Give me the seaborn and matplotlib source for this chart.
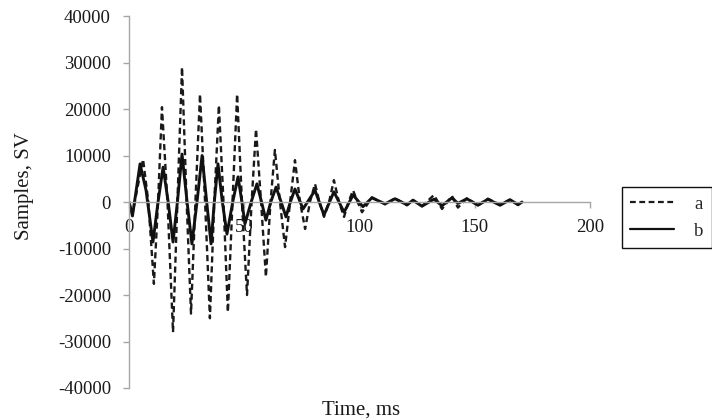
import pandas as pd
import seaborn as sns
import matplotlib.pyplot as plt
from matplotlib.ticker import MultipleLocator

# series a (dashed): time in ms, samples in SV
a_time = [0, 1.5, 6.1, 8.4, 10.8, 12.6, 14.3, 16.7, 19.1, 21.0,
          23.0, 25.0, 26.9, 28.8, 30.8, 33.0, 35.1, 37.0, 39.0, 41.0,
          42.9, 44.9, 46.9, 49.0, 51.2, 53.2, 55.1, 57.3, 59.4, 61.4,
          63.3, 65.5, 67.7, 69.9, 72.0, 74.2, 76.4, 78.5, 80.7, 82.6,
          84.6, 86.8, 88.9, 91.1, 93.3, 95.2, 97.2, 99.2, 101.1, 105.4,
          111.1, 115.4, 120.6, 123.2, 127.1, 132.3, 135.8, 140.1, 142.7, 146.6,
          151.4, 155.7, 161.0, 165.3, 168.8, 170.5]
a_value = [0, -2500, 9200, 0, -17600, 0, 20400, 0, -28000, 0,
           29000, 0, -24000, 0, 23200, 0, -25000, 0, 20800, 0,
           -23700, 0, 23200, 0, -20000, 0, 15700, 0, -16100, 0,
           11200, 0, -9700, 0, 9000, 0, -5800, 0, 3900, 0,
           -3200, 0, 4700, 0, -3200, 0, 2500, 0, -2200, 1000,
           -500, 800, -700, 400, -900, 1500, -1500, 1300, -1200, 800,
           -700, 700, -600, 500, -600, 0]

# series b (solid)
b_time = [0, 1.5, 4.8, 7.4, 10.4, 12.6, 14.8, 17.0, 19.1, 21.0,
          23.0, 25.2, 27.3, 29.5, 31.7, 33.7, 35.6, 37.0, 38.6, 40.5,
          42.5, 45.0, 47.3, 49.0, 50.3, 53.0, 55.5, 57.5, 59.4, 61.5,
          63.8, 66.0, 68.1, 70.0, 72.0, 75.5, 80.7, 84.6, 88.9, 93.3,
          97.2, 101.5, 105.4, 111.1, 115.4, 120.6, 123.2, 127.1, 132.3, 135.8,
          140.1, 142.7, 146.6, 151.4, 155.7, 161.0, 165.3, 168.8, 170.5]
b_value = [0, -3000, 8200, 2500, -8600, 0, 7500, 0, -8600, 0,
           10300, 0, -9000, 0, 10000, 0, -9000, 0, 8200, 0,
           -6900, 0, 5400, 0, -4700, 0, 3900, 0, -3900, 0,
           3200, 0, -3200, 0, 2800, -1500, 2500, -2800, 2200, -2200,
           1500, -1000, 900, -400, 700, -600, 400, -900, 600, -800,
           900, -300, 700, -700, 600, -700, 500, -600, 0]

series = ['a', 'b']
y_ticks = list(range(-40000, 40001, 10000))

df = pd.concat([
    pd.DataFrame({'time': a_time, 'value': a_value, 'series': 'a'}),
    pd.DataFrame({'time': b_time, 'value': b_value, 'series': 'b'}),
])

sns.set_style('white')
plt.rcParams['font.family'] = ['Liberation Serif', 'DejaVu Serif']
plt.rcParams['axes.unicode_minus'] = False

fig = plt.figure(figsize=(7.12, 4.2), dpi=100)
ax = fig.add_axes([129 / 712, 32 / 420, 461 / 712, 372 / 420])

sns.lineplot(
    data=df, x='time', y='value', hue='series', style='series',
    hue_order=series, style_order=series,
    palette={'a': '#1a1a1a', 'b': '#111111'},
    dashes={'a': (2.6, 1.6), 'b': ''},
    estimator=None, sort=False, ax=ax,
)
for line, lw in zip(ax.lines, (1.7, 2.1)):
    line.set_linewidth(lw)
    line.set_solid_joinstyle('round')
    line.set_dash_joinstyle('round')

ax.set_xlim(0, 200)
ax.set_ylim(-40000, 40000)
ax.set_yticks(y_ticks)
ax.xaxis.set_major_locator(MultipleLocator(50))

grey = '#a6a6a6'
for side in ('top', 'right'):
    ax.spines[side].set_visible(False)
ax.spines['bottom'].set_position(('data', 0))
for side in ('left', 'bottom'):
    ax.spines[side].set_color(grey)
    ax.spines[side].set_linewidth(1.0)

ax.tick_params(axis='both', direction='out', length=4, width=1.0,
               color=grey, labelcolor='#1a1a1a', labelsize=13.5)
ax.tick_params(axis='y', pad=9, left=True)
ax.tick_params(axis='x', pad=8, bottom=True)

ax.set_xlabel('Time, ms', fontsize=15, color='#1a1a1a')
ax.set_ylabel('Samples, SV', fontsize=15, color='#1a1a1a')
ax.xaxis.set_label_coords(0.503, -0.035)
ax.yaxis.set_label_coords(-0.206, 0.543)

handles, labels = ax.get_legend_handles_labels()
for h in handles:
    h.set_linewidth(1.6)
leg = ax.legend(
    handles, labels,
    loc='upper left', bbox_to_anchor=(622 / 712, 1 - 187 / 420),
    bbox_transform=fig.transFigure, borderaxespad=0,
    fontsize=13.5, handlelength=2.3, handletextpad=1.1,
    borderpad=0.45, labelspacing=0.55,
    frameon=True, fancybox=False, framealpha=1,
)
leg.get_frame().set_edgecolor('#111111')
leg.get_frame().set_linewidth(1.0)

fig.savefig('out.png', dpi=100)
